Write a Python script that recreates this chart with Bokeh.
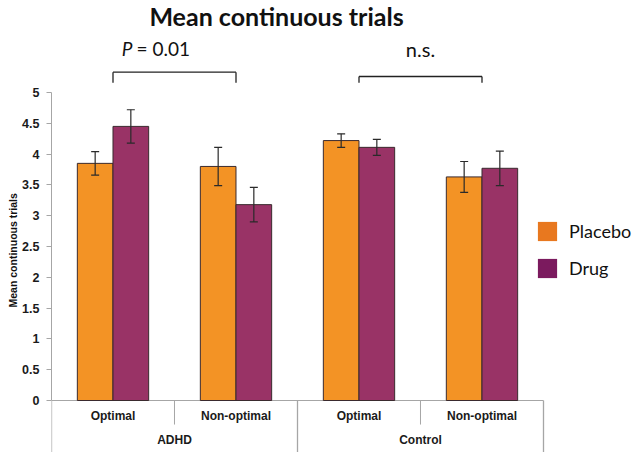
from bokeh.plotting import figure
from bokeh.models import (ColumnDataSource, Range1d, Whisker, TeeHead,
                          Label, FixedTicker, Legend, LegendItem, Title)
from bokeh.transform import dodge
from bokeh.core.properties import value
from bokeh.embed import file_html
from bokeh.resources import INLINE

# ---------------- data ----------------
groups = ["ADHD", "Control"]
conditions = ["Optimal", "Non-optimal"]
series = ["Placebo", "Drug"]
placebo = [3.85, 3.80, 4.22, 3.63]
placebo_err = [0.19, 0.31, 0.11, 0.25]
drug = [4.45, 3.18, 4.11, 3.77]
drug_err = [0.27, 0.28, 0.13, 0.28]
y_ticks = [0, 0.5, 1, 1.5, 2, 2.5, 3, 3.5, 4, 4.5, 5]
y_tick_labels = ["0", "0.5", "1", "1.5", "2", "2.5", "3", "3.5", "4", "4.5", "5"]
title_text = "Mean continuous trials"
y_label = "Mean continuous trials"
sig_bracket_y = [5.33, 5.26]
sig_bracket_tick = 5.16
sig_p_value = "= 0.01"
sig_ns = "n.s."

# ---------------- derived positions (category index on the x scale) ----------------
cat_labels = [c for g in groups for c in conditions]
cat_x = list(range(len(cat_labels)))
n_sub = len(conditions)
group_x = [sum(cat_x[i * n_sub:(i + 1) * n_sub]) / n_sub for i in range(len(groups))]
group_first = [cat_x[i * n_sub] for i in range(len(groups))]
group_last = [cat_x[(i + 1) * n_sub - 1] for i in range(len(groups))]

# ---------------- styles ----------------
PLACEBO_C = "#F39325"
DRUG_C = "#993366"
PLACEBO_LEG = "#E8781F"
DRUG_LEG = "#7B1A5E"
GRID_C = "#a6a6a6"
BAR_LINE = "#3a2a2e"
BW = 0.29
OFF = 0.145

p = figure(width=635, height=452,
           x_range=Range1d(-0.5, len(cat_x) - 0.5 + 0.748),
           y_range=Range1d(-0.844, 6.494),
           output_backend="svg", toolbar_location=None, x_axis_location=None,
           min_border_left=51, min_border_right=0, min_border_top=0, min_border_bottom=0)
p.outline_line_color = None
p.grid.visible = False
p.background_fill_color = "white"

# y axis
ax = p.yaxis[0]
ax.ticker = FixedTicker(ticks=y_ticks, minor_ticks=[])
ax.major_label_overrides = {float(t): l for t, l in zip(y_ticks, y_tick_labels)}
ax.bounds = (0, 5)
ax.axis_line_color = GRID_C
ax.major_tick_line_color = GRID_C
ax.major_tick_out = 5
ax.major_tick_in = 0
ax.minor_tick_line_color = None
ax.major_label_text_font = "Liberation Sans"
ax.major_label_text_font_style = "bold"
ax.major_label_text_font_size = "12.5px"
ax.major_label_text_color = "#1a1a1a"
ax.major_label_standoff = 7

# y axis label (side title so it is not clipped)
p.add_layout(Title(text=y_label, align="left", offset=145, standoff=2,
                   text_font="Liberation Sans", text_font_style="bold",
                   text_font_size="10.5px", text_color="#111111"), "left")

src = ColumnDataSource(dict(
    x=cat_x, placebo=placebo, drug=drug,
    p_up=[v + e for v, e in zip(placebo, placebo_err)],
    p_lo=[v - e for v, e in zip(placebo, placebo_err)],
    d_up=[v + e for v, e in zip(drug, drug_err)],
    d_lo=[v - e for v, e in zip(drug, drug_err)],
))

# baseline (x axis line)
p.segment(x0=[cat_x[0] - 0.5], x1=[cat_x[-1] + 0.5], y0=[0], y1=[0],
          line_color=GRID_C, line_width=1)

p.vbar(x=dodge("x", -OFF), top="placebo", width=BW, source=src,
       fill_color=PLACEBO_C, line_color=BAR_LINE, line_width=1)
p.vbar(x=dodge("x", OFF), top="drug", width=BW, source=src,
       fill_color=DRUG_C, line_color=BAR_LINE, line_width=1)

# hidden renderers that only provide the legend swatches
leg_pl = p.vbar(x=dodge("x", -OFF), top="placebo", width=BW, source=src,
                fill_color=PLACEBO_LEG, line_color=None, visible=False)
leg_dr = p.vbar(x=dodge("x", OFF), top="drug", width=BW, source=src,
                fill_color=DRUG_LEG, line_color=None, visible=False)

for base, up, lo in [(-OFF, "p_up", "p_lo"), (OFF, "d_up", "d_lo")]:
    w = Whisker(base=dodge("x", base), upper=up, lower=lo, source=src,
                line_color="#2a2a2a", line_width=1.2, level="annotation",
                upper_head=TeeHead(size=8, line_color="#2a2a2a", line_width=1.2),
                lower_head=TeeHead(size=8, line_color="#2a2a2a", line_width=1.2))
    p.add_layout(w)

# category separators (axis box)
sub_x = [x - 0.5 for x in cat_x if x not in group_first]
p.segment(x0=sub_x, x1=sub_x, y0=0, y1=-0.39, line_color=GRID_C, line_width=1)
full_x = [x - 0.5 for x in group_first] + [group_last[-1] + 0.5]
p.segment(x0=full_x, x1=full_x, y0=0, y1=-0.9, line_color=GRID_C, line_width=1.3)

# category labels
p.text(x=cat_x, y=[-0.244] * len(cat_x), text=cat_labels,
       text_font=value("Liberation Sans"), text_font_style="bold",
       text_font_size="12px", text_color="#1a1a1a",
       text_align="center", text_baseline="middle")
p.text(x=group_x, y=[-0.649] * len(groups), text=groups,
       text_font=value("Liberation Sans"), text_font_style="bold",
       text_font_size="12px", text_color="#1a1a1a",
       text_align="center", text_baseline="middle")

# significance brackets
br = ColumnDataSource(dict(x0=group_first, x1=group_last,
                           y=sig_bracket_y, yt=[sig_bracket_tick] * len(groups)))
p.segment(x0="x0", x1="x1", y0="y", y1="y", source=br, line_color="#222222", line_width=1.3)
p.segment(x0="x0", x1="x0", y0="y", y1="yt", source=br, line_color="#222222", line_width=1.3)
p.segment(x0="x1", x1="x1", y0="y", y1="yt", source=br, line_color="#222222", line_width=1.3)

p.text(x=[group_x[0]], y=[5.71], text=["P"], x_offset=-42,
       text_font=value("Lato"), text_font_style="italic", text_font_size="19px",
       text_color="#111111", text_align="right", text_baseline="middle")
p.text(x=[group_x[0]], y=[5.71], text=[sig_p_value], x_offset=-38,
       text_font=value("Lato"), text_font_size="19px",
       text_color="#111111", text_align="left", text_baseline="middle")
p.text(x=[group_x[1]], y=[5.71], text=[sig_ns],
       text_font=value("Lato"), text_font_size="20px",
       text_color="#111111", text_align="center", text_baseline="middle")

# title
p.add_layout(Label(x=225, y=437, x_units="screen", y_units="screen", text=title_text,
                   text_font="Lato", text_font_style="bold", text_font_size="25px",
                   text_color="#111111", text_align="center", text_baseline="middle"))

# legend
legend = Legend(items=[LegendItem(label=series[0], renderers=[leg_pl]),
                       LegendItem(label=series[1], renderers=[leg_dr])],
                location=(484, 172), glyph_width=24, glyph_height=24, label_height=24,
                label_standoff=10, spacing=13, padding=0, margin=0,
                border_line_color=None, background_fill_alpha=0,
                inactive_fill_alpha=0,
                label_text_font="Lato", label_text_font_size="18px",
                label_text_color="#111111")
p.add_layout(legend, "center")

open("out.html", "w").write(file_html(p, INLINE))
